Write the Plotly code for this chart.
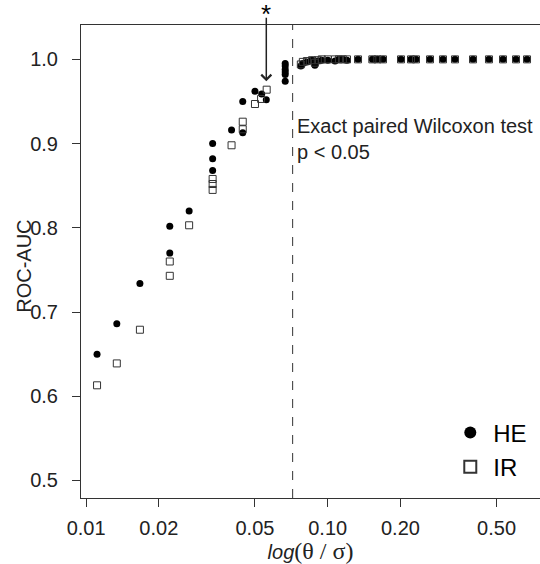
import math
import plotly.graph_objects as go

# ---- data ----
he_x = [0.0111, 0.0134, 0.0167, 0.0222, 0.0222, 0.0267, 0.0334, 0.0334, 0.0334,
        0.0400, 0.0445, 0.0445, 0.0500, 0.0533, 0.0557,
        0.0667, 0.0667, 0.0667, 0.0667, 0.0667, 0.0667,
        0.0774, 0.0789, 0.0820, 0.0861, 0.0885, 0.0910, 0.0945, 0.1001, 0.1072,
        0.1113, 0.1155, 0.1202, 0.1335, 0.1530, 0.1605, 0.1694, 0.2011, 0.2212,
        0.2320, 0.2651, 0.3000, 0.3364, 0.3995, 0.4651, 0.5316, 0.6017, 0.6683]
he_y = [0.650, 0.686, 0.734, 0.770, 0.802, 0.820, 0.868, 0.882, 0.900,
        0.916, 0.913, 0.950, 0.962, 0.959, 0.952,
        0.974, 0.982, 0.985, 0.988, 0.992, 0.995,
        0.992, 0.995, 0.997, 0.999, 0.993, 0.998, 0.999, 0.999, 0.998,
        1.000, 1.000, 0.999, 1.000, 1.000, 1.000, 1.000, 1.000, 1.000,
        1.000, 1.000, 1.000, 1.000, 1.000, 1.000, 1.000, 1.000, 1.000]

ir_x = [0.0111, 0.0134, 0.0167, 0.0222, 0.0222, 0.0267, 0.0334, 0.0334, 0.0334,
        0.0400, 0.0445, 0.0445, 0.0500, 0.0530, 0.0559,
        0.0774, 0.0789, 0.0820, 0.0861, 0.0885, 0.0910, 0.0945, 0.1001, 0.1072,
        0.1113, 0.1155, 0.1202, 0.1335, 0.1530, 0.1605, 0.1694, 0.2011, 0.2212,
        0.2320, 0.2651, 0.3000, 0.3364, 0.3995, 0.4651, 0.5316, 0.6017, 0.6683]
ir_y = [0.613, 0.639, 0.679, 0.760, 0.743, 0.803, 0.858, 0.852, 0.845,
        0.898, 0.926, 0.917, 0.947, 0.953, 0.964,
        0.994, 0.997, 0.998, 0.999, 0.996, 0.999, 1.000, 1.000, 1.000,
        1.000, 1.000, 1.000, 1.000, 1.000, 1.000, 1.000, 1.000, 1.000,
        1.000, 1.000, 1.000, 1.000, 1.000, 1.000, 1.000, 1.000, 1.000]

x_tickvals = [0.01, 0.02, 0.05, 0.10, 0.20, 0.50]
x_ticktext = ["0.01", "0.02", "0.05", "0.10", "0.20", "0.50"]
y_tickvals = [0.5, 0.6, 0.7, 0.8, 0.9, 1.0]
y_ticktext = ["0.5", "0.6", "0.7", "0.8", "0.9", "1.0"]

threshold = 0.0716      # dashed line
star_x = 0.0557         # marked point
star_y = 0.974

FONT = "Liberation Sans, Arial, sans-serif"
AX = "#333333"

fig = go.Figure()
fig.add_trace(go.Scatter(x=he_x, y=he_y, mode="markers", name="HE",
                         legendgroup="a",
                         marker=dict(symbol="circle", size=7, color="black",
                                     line=dict(width=0))))
fig.add_trace(go.Scatter(x=ir_x, y=ir_y, mode="markers", name="IR",
                         legendgroup="b",
                         marker=dict(symbol="square-open", size=7, color="#333333",
                                     line=dict(width=1))))

fig.add_shape(type="line", xref="x", yref="paper", x0=threshold, x1=threshold,
              y0=0, y1=1, line=dict(color="#333333", width=1, dash="dash"))

# annotations on a log axis take log10 positions
fig.add_annotation(x=math.log10(star_x), y=star_y, xref="x", yref="y", text="",
                   showarrow=True, arrowhead=4, arrowsize=1.3, arrowwidth=1.5,
                   arrowcolor="#222222", ax=0, ay=-65)
fig.add_annotation(x=math.log10(star_x), y=1.0529, xref="x", yref="paper", text="*",
                   showarrow=False, xanchor="center", yanchor="top", yshift=3,
                   font=dict(family=FONT, size=26, color="black"))
fig.add_annotation(x=math.log10(threshold), y=0.905, xref="x", yref="y",
                   text="Exact paired Wilcoxon test<br>p < 0.05",
                   xanchor="left", yanchor="middle", align="left", xshift=2,
                   showarrow=False, font=dict(family=FONT, size=20, color="#222222"))
# y-axis title
fig.add_annotation(x=-0.123, y=0.49, xref="paper", yref="paper", text="ROC-AUC",
                   textangle=-90, showarrow=False, xanchor="center", yanchor="middle",
                   font=dict(family=FONT, size=20, color="#222222"))

fig.update_layout(
    width=540, height=564,
    margin=dict(l=81, r=0, t=25, b=66),
    paper_bgcolor="white", plot_bgcolor="white",
    font=dict(family=FONT, size=20, color="#222222"),
    showlegend=True,
    legend=dict(x=0.798, y=0.185, xanchor="left", yanchor="top",
                bgcolor="rgba(0,0,0,0)", itemsizing="constant",
                traceorder="grouped", tracegroupgap=0, itemwidth=36,
                font=dict(family=FONT, size=24, color="black")),
    xaxis=dict(type="log", range=[-2.0211, -0.1213], automargin=False,
               tickvals=x_tickvals, ticktext=x_ticktext,
               ticks="outside", ticklen=8, tickcolor=AX, tickwidth=1,
               showline=True, linecolor=AX, linewidth=1, mirror=True,
               showgrid=False, zeroline=False,
               ticklabelstandoff=4,
               title=dict(text="<i>log</i><span style='font-family:Liberation Serif, serif;font-size:24px'>(θ / σ)</span>",
                          standoff=2, font=dict(family=FONT, size=20))),
    yaxis=dict(range=[0.4792, 1.0408], automargin=False,
               tickvals=y_tickvals, ticktext=y_ticktext,
               ticks="outside", ticklen=8, tickcolor=AX, tickwidth=1,
               showline=True, linecolor=AX, linewidth=1,
               showgrid=False, zeroline=False,
               ticklabelstandoff=10),
)

fig.write_html("out.html", config={"displayModeBar": False},
               post_script="document.body.style.margin='0';document.body.style.padding='0';")
